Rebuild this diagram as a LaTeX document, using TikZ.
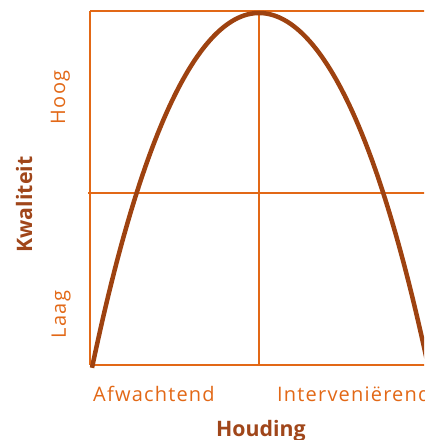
\documentclass[tikz,border=0pt]{standalone}
\usepackage{fontspec}
\setmainfont{Open Sans}
\newfontfamily\tickfont[LetterSpace=6]{Open Sans}
\definecolor{gridorange}{RGB}{226,104,22}
\definecolor{curvebrown}{RGB}{158,66,16}
\definecolor{titlebrown}{RGB}{160,70,26}
\begin{document}
\begin{tikzpicture}[x=1pt,y=1pt,
  gridline/.style={draw=gridorange,line width=2pt},
  curveline/.style={draw=curvebrown,line width=4.5pt},
  tick/.style={text=gridorange,font=\tickfont\fontsize{20}{22}\selectfont,inner sep=0pt},
  axistitle/.style={text=titlebrown,font=\fontsize{21.3}{23}\bfseries\selectfont,inner sep=0pt}]
\useasboundingbox (0,0) rectangle (424,440);
\begin{scope}
\clip (0,0) rectangle (424,440);
% grid
\coordinate (tl) at (90,429);
\coordinate (bl) at (90,75);
\coordinate (ml) at (88,247);
\coordinate (tr) at (430,429);
\coordinate (mr) at (430,247);
\coordinate (br) at (430,75);
\coordinate (tm) at (259,429);
\coordinate (bm) at (259,75);
\draw[gridline] (tl) -- (bl);
\draw[gridline] (tl) -- (tr);
\draw[gridline] (ml) -- (mr);
\draw[gridline] (bl) -- (br);
\draw[gridline] (tm) -- (bm);
% curve
\draw[curveline] plot[domain=92:259,samples=90,smooth] ({\x},{427-112*((\x-259)/100)^2-5.46*((\x-259)/100)^4});
\draw[curveline] plot[domain=259:432,samples=90,smooth] ({\x},{427-112*((\x-259)/101.5)^2-5.46*((\x-259)/101.5)^4});
% labels
\node[tick,rotate=90,anchor=base] (hoog) at (65,342.5) {Hoog};
\node[tick,rotate=90,anchor=base] (laag) at (66,125.5) {Laag};
\node[axistitle,rotate=90,anchor=base] (kwal) at (32,235.5) {Kwaliteit};
\node[tick,anchor=base west] (afw) at (93,38) {Afwachtend};
\node[tick,anchor=base west] (int) at (277,38) {Interveniërend};
\node[axistitle,anchor=base west] (houd) at (216,3) {Houding};
\end{scope}
\end{tikzpicture}
\end{document}
